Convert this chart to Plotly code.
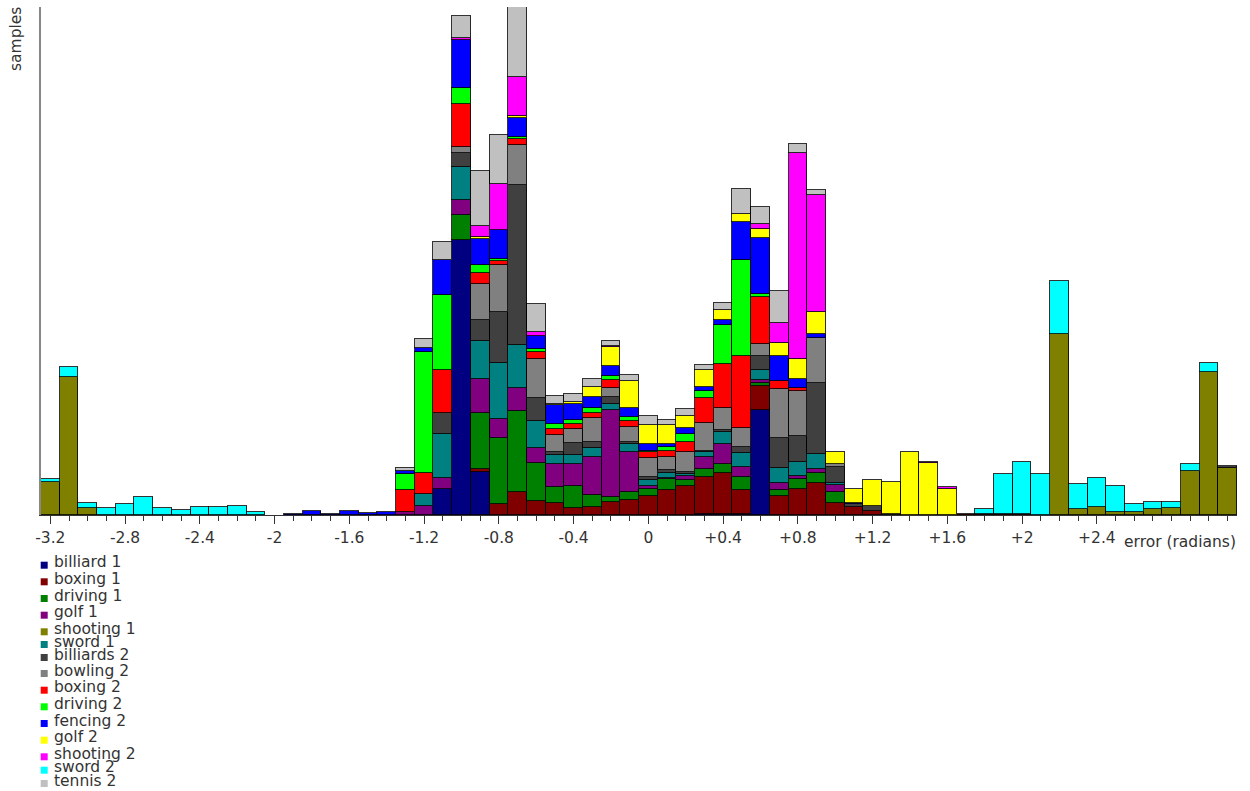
import plotly.graph_objects as go

# Bin centres (radians), width 0.1
bin_centers = [round(-3.2 + 0.1 * i, 1) for i in range(64)]
bin_width = 0.1

series_names = ["billiard 1", "boxing 1", "driving 1", "golf 1", "shooting 1", "sword 1",
                "billiards 2", "bowling 2", "boxing 2", "driving 2", "fencing 2", "golf 2",
                "shooting 2", "sword 2", "tennis 2"]
series_colors = ["#000080", "#800000", "#008000", "#800080", "#808000", "#008080",
                 "#404040", "#808080", "#ff0000", "#00ff00", "#0000ff", "#ffff00",
                 "#ff00ff", "#00ffff", "#c0c0c0"]

Z8 = [0] * 8
billiard_1 = (Z8 + Z8 +
              [0, 0, 0, 0, 0, 26, 275, 43] +
              Z8 +
              [0, 0, 0, 1.5, 1.5, 1.5, 105, 0] +
              Z8 + Z8 + Z8)
boxing_1 = (Z8 + Z8 +
            [0, 0, 0, 0, 0, 0, 0, 3] +
            [11, 23.5, 14.5, 12.5, 7, 8.5, 13.5, 15.5] +
            [19, 25.5, 29, 36.5, 41, 23.5, 24, 19.5] +
            [26.5, 32.5, 12.5, 8.5, 4.5, 0, 0, 0] +
            [0, 1.5, 1, 1.5, 1.5, 0, 0, 0] +
            Z8)
driving_1 = (Z8 + Z8 +
             [0, 0, 0, 0, 0, 0, 25, 56.5] +
             [66.5, 81, 37.5, 15.5, 22, 11.5, 5, 7.5] +
             [7.5, 10.5, 6.5, 8.5, 9, 13.5, 3.5, 5.5] +
             [9.5, 9.5, 11, 0, 0, 0, 0, 0] +
             Z8 + Z8)
golf_1 = (Z8 + Z8 +
          [0, 0, 0, 3.5, 9.5, 11.5, 15, 33.5] +
          [19, 22.5, 15, 23.5, 22, 38.5, 86.5, 40] +
          [2.5, 1.5, 3.5, 12, 20, 10, 3, 7.5] +
          [3, 4, 6.5, 0, 0, 0, 0, 0] +
          Z8 + Z8)
shooting_1 = ([33, 138.5, 7, 0, 0, 0, 0, 0] +
              Z8 + Z8 + Z8 + Z8 + Z8 +
              [0, 0, 0, 0, 0, 0, 181, 6] +
              [8, 3.5, 3.5, 6, 7.5, 44.5, 143.5, 47])
sword_1 = (Z8 + Z8 +
           [0, 0, 0, 0, 11.5, 44, 33.5, 38.5] +
           [55.5, 43.5, 27.5, 8.5, 9, 9, 6, 8.5] +
           [6.5, 4.5, 2.5, 4.5, 11.5, 14, 9.5, 14.5] +
           [14.5, 15.5, 2.5, 0, 0, 0, 0, 0] +
           Z8 + Z8)
billiards_2 = (Z8 + Z8 +
               [0, 0, 0, 0, 0, 20.5, 14, 21] +
               [51, 160, 23, 3.5, 12.5, 6, 7.5, 1.5] +
               [2.5, 3.5, 1.5, 1.5, 2, 5.5, 14, 30] +
               [25.5, 70.5, 15.5, 2.5, 4.5, 1.5, 0, 0] +
               Z8 +
               [0, 0, 0, 0, 0, 0, 0, 2])
bowling_2 = (Z8 + Z8 +
             [0, 0, 0, 0, 0, 0, 6, 36] +
             [47.5, 40, 38.5, 16.5, 14, 24, 8.5, 15] +
             [19.5, 12.5, 20, 28, 22, 19, 12.5, 49] +
             [45.5, 45, 3.5, 0, 0, 0, 0, 0] +
             Z8 + Z8)
boxing_2 = (Z8 + Z8 +
            [0, 0, 0, 21.5, 21, 43.5, 42.5, 10.5] +
            [3.5, 5.5, 7.5, 6.5, 4.5, 5, 8.5, 6.5] +
            [5.5, 6.5, 10.5, 24.5, 44, 72.5, 46.5, 8.5] +
            [2.5, 0, 0, 0, 0, 0, 0, 0] +
            Z8 + Z8)
driving_2 = (Z8 + Z8 +
             [0, 0, 0, 16.5, 121.5, 74.5, 16.5, 8.5] +
             [2.5, 2.5, 3, 5, 4, 5, 3.5, 3.5] +
             [1.5, 3.5, 7.5, 7.5, 39, 96, 3.5, 0] +
             Z8 + Z8 + Z8)
fencing_2 = (Z8 +
             [0, 0, 0, 0, 0, 1.5, 4, 1.5] +
             [4.5, 2, 3.5, 2.5, 3.5, 35.5, 47.5, 26] +
             [28.5, 18.5, 12.5, 18.5, 16, 11, 10, 9] +
             [6.5, 3.5, 6.5, 4, 5.5, 37.5, 56, 24.5] +
             [9.5, 4.5, 0, 1.5, 0, 0, 0, 0] +
             Z8 + Z8)
golf_2 = (Z8 + Z8 +
          [0, 0, 0, 0, 0, 0, 0, 2] +
          [0, 2, 0, 1.5, 2, 10, 19, 27] +
          [19.5, 19, 11.5, 16.5, 10, 8.5, 8.5, 13.5] +
          [19.5, 21.5, 11.5, 13.5, 26.5, 32, 63.5, 52] +
          [26, 0, 0, 0, 0, 0, 0, 0] +
          Z8)
shooting_2 = (Z8 + Z8 +
              [0, 0, 0, 0, 0, 0, 2, 10.5] +
              [46.5, 39.5, 4, 0, 0, 0, 1.5, 0] +
              [0, 0, 0, 0, 0, 0, 5.5, 19.5] +
              [206.5, 117.5, 0, 0, 0, 0, 0, 1.5] +
              [2, 0, 0, 0, 0, 0, 0, 0] +
              Z8)
sword_2 = ([3.5, 10, 5, 7, 11, 18.5, 7, 5] +
           [8, 8, 9.5, 3, 0, 0, 0, 0] +
           Z8 + Z8 + Z8 + Z8 +
           [0, 0, 5.5, 40, 51.5, 41, 53.5, 25.5] +
           [29, 26, 8, 7, 5.5, 7, 8.5, 0])
tennis_2 = (Z8 + Z8 +
            [0, 0, 0, 3.5, 9, 17.5, 22.5, 55] +
            [48.5, 70, 28.5, 8, 8.5, 7.5, 5, 6.5] +
            [8.5, 5, 7, 5, 6.5, 25, 16.5, 32] +
            [8.5, 4.5, 0, 0, 0, 0, 0, 0] +
            Z8 + Z8)

series_values = [billiard_1, boxing_1, driving_1, golf_1, shooting_1, sword_1,
                 billiards_2, bowling_2, boxing_2, driving_2, fencing_2, golf_2,
                 shooting_2, sword_2, tennis_2]

major_ticks = [-3.2, -2.8, -2.4, -2.0, -1.6, -1.2, -0.8, -0.4, 0.0, 0.4, 0.8, 1.2, 1.6, 2.0, 2.4, 2.8]
major_labels = ["-3.2", "-2.8", "-2.4", "-2", "-1.6", "-1.2", "-0.8", "-0.4", "0",
                "+0.4", "+0.8", "+1.2", "+1.6", "+2", "+2.4", ""]

FONT = "DejaVu Sans"
FS = 15.5
TXT = "#333333"

fig = go.Figure()
for name, color, vals in zip(series_names, series_colors, series_values):
    fig.add_trace(go.Bar(
        x=bin_centers, y=[v if v else None for v in vals], width=bin_width,
        name=name, marker=dict(color=color, line=dict(color="rgba(0,0,0,0.8)", width=1)),
        showlegend=False))

totals = [sum(s[i] for s in series_values) for i in range(len(bin_centers))]

# plot geometry in px for positioning text
L, R, T, B = 41, 13, 7, 276
W, H = 1250 - L - R, 791 - T - B


def px(xp):
    return (xp - L) / W


def py(yp):
    return (791 - B - yp) / H


annotations = [
    dict(text="samples", x=px(16), y=py(5), xref="paper", yref="paper",
         xanchor="center", yanchor="top", textangle=-90, showarrow=False,
         font=dict(family=FONT, size=FS, color=TXT)),
    dict(text="error (radians)", x=px(1238), y=py(542), xref="paper", yref="paper",
         xanchor="right", yanchor="middle", showarrow=False,
         font=dict(family=FONT, size=FS, color=TXT)),
]
shapes = []
legend_baselines = [566.7, 583.3, 600, 616.7, 633.3, 646, 659, 675, 691.7, 708.3,
                    725, 741.7, 758.3, 771.7, 785]
for name, color, b in zip(series_names, series_colors, legend_baselines):
    shapes.append(dict(type="rect", xref="paper", yref="paper",
                       x0=px(40.7), x1=px(47.7), y0=py(b + 2), y1=py(b - 5),
                       fillcolor=color, line=dict(width=0)))
    annotations.append(dict(text=name, x=px(52), y=py(b - 4.5), xref="paper", yref="paper",
                            xanchor="left", yanchor="middle", showarrow=False,
                            font=dict(family=FONT, size=FS, color=TXT)))

fig.update_layout(
    width=1250, height=791,
    margin=dict(l=L, r=R, t=T, b=B, pad=0),
    barmode="stack", bargap=0,
    plot_bgcolor="white", paper_bgcolor="white",
    font=dict(family=FONT, size=FS, color=TXT),
    annotations=annotations, shapes=shapes,
    showlegend=False,
    xaxis=dict(range=[-3.25, 3.15], tickmode="array", tickvals=major_ticks, ticktext=major_labels,
               ticks="outside", ticklen=8, tickcolor="#333333", tickwidth=1,
               showline=True, linecolor="#333333", linewidth=1, showgrid=False, zeroline=False,
               tickfont=dict(family=FONT, size=FS, color=TXT),
               minor=dict(tickmode="array", tickvals=bin_centers, ticks="outside", ticklen=5,
                          tickcolor="#333333", showgrid=False)),
    yaxis=dict(range=[0, max(totals)], showticklabels=False, ticks="", showgrid=False,
               zeroline=False, showline=True, linecolor="#888888", linewidth=1.5),
)

fig.write_html("out.html")
